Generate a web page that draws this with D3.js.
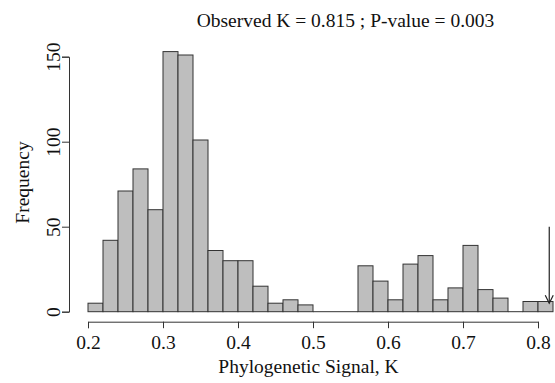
<!DOCTYPE html>
<html>
<head>
<meta charset="utf-8">
<script src="https://cdn.jsdelivr.net/npm/d3@7"></script>
<style>
  body { margin: 0; background: #fff; }
  svg { display: block; }
</style>
</head>
<body>
<div id="chart"></div>
<script>
// histogram of K under null, bins of width 0.02 starting at 0.2
var binStart = 0.2;
var binWidth = 0.02;
var counts = [5, 42, 71, 84, 60, 153, 151, 101, 36, 30, 30, 15, 5, 7, 4,
              0, 0, 0, 27, 18, 7, 28, 33, 7, 14, 39, 13, 8, 0, 6, 6];
var xTicks = [0.2, 0.3, 0.4, 0.5, 0.6, 0.7, 0.8];
var yTicks = [0, 50, 100, 150];
var observedK = 0.815;
var arrowFrom = 50, arrowTo = 5;
var titleText = "Observed K = 0.815 ; P-value = 0.003";

var width = 555, height = 383;
var font = "'Liberation Serif', 'Times New Roman', serif";
var fs = 19.5;

var bins = counts.map((c, i) => ({x0: binStart + i * binWidth, x1: binStart + (i + 1) * binWidth, n: c}));

var x = d3.scaleLinear().domain([0.2, 0.8]).range([88, 538]);
var y = d3.scaleLinear().domain([0, 150]).range([311.7, 56.7]);

var svg = d3.select("#chart").append("svg")
	.attr("width", width)
	.attr("height", height)
	.style("font-family", font);

// bars (empty bins still get a flat line, like R's hist)
var bars = svg.append("g")
	.selectAll("g")
	.data(bins)
	.join("g");
bars.filter(d => d.n > 0).append("rect")
		.attr("x", d => x(d.x0))
		.attr("y", d => y(d.n))
		.attr("width", d => x(d.x1) - x(d.x0))
		.attr("height", d => y(0) - y(d.n))
		.attr("fill", "#bebebe")
		.attr("stroke", "#333")
		.attr("stroke-width", 1);
bars.filter(d => d.n == 0).append("line")
		.attr("x1", d => x(d.x0))
		.attr("x2", d => x(d.x1))
		.attr("y1", y(0))
		.attr("y2", y(0))
		.attr("stroke", "#333")
		.attr("stroke-width", 1);

// x axis
var xAxis = svg.append("g")
	.attr("transform", "translate(0,321.7)")
	.call(d3.axisBottom(x).tickValues(xTicks).tickSizeOuter(0).tickSize(6.5).tickFormat(d3.format(".1f")));
xAxis.selectAll("path, line").attr("stroke", "#333");
xAxis.selectAll("text")
	.attr("y", 27.3)
	.attr("dy", null)
	.attr("fill", "#111")
	.style("font-family", font)
	.style("font-size", fs + "px");

// y axis
var yAxis = svg.append("g")
	.attr("transform", "translate(69,0)")
	.call(d3.axisLeft(y).tickValues(yTicks).tickSizeOuter(0).tickSize(7));
yAxis.selectAll("path, line").attr("stroke", "#333");
yAxis.selectAll("text")
	.attr("x", null)
	.attr("dy", null)
	.attr("text-anchor", "middle")
	.attr("transform", "translate(-9,0) rotate(-90)")
	.attr("y", 0)
	.attr("fill", "#111")
	.style("font-family", font)
	.style("font-size", fs + "px");

// observed value arrow
var ax = x(observedK);
svg.append("line")
	.attr("x1", ax).attr("x2", ax)
	.attr("y1", y(arrowFrom)).attr("y2", y(arrowTo))
	.attr("stroke", "#222").attr("stroke-width", 1.2);
svg.append("path")
	.attr("d", `M${ax - 4},${y(arrowTo) - 8}L${ax},${y(arrowTo)}L${ax + 4},${y(arrowTo) - 8}`)
	.attr("fill", "none")
	.attr("stroke", "#222").attr("stroke-width", 1.2);

// titles
svg.append("text")
	.attr("x", 345.5).attr("y", 26.5)
	.attr("text-anchor", "middle")
	.style("font-size", fs + "px")
	.attr("fill", "#111")
	.text(titleText);

svg.append("text")
	.attr("x", 308.5).attr("y", 372.5)
	.attr("text-anchor", "middle")
	.style("font-size", fs + "px")
	.attr("fill", "#111")
	.text("Phylogenetic Signal, K");

svg.append("text")
	.attr("transform", "translate(29,182.5) rotate(-90)")
	.attr("text-anchor", "middle")
	.style("font-size", fs + "px")
	.attr("fill", "#111")
	.text("Frequency");
</script>
</body>
</html>
